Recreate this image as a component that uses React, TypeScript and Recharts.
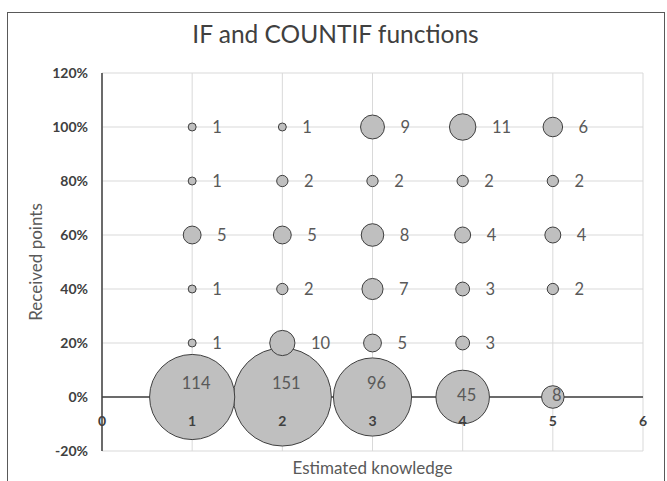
import React from "react";
import {
  ScatterChart,
  Scatter,
  XAxis,
  YAxis,
  ZAxis,
  CartesianGrid,
  ReferenceLine,
} from "recharts";

// estimated knowledge levels (x) and received points levels (y)
const knowledge = [1, 2, 3, 4, 5];
const pointLevels = [0, 0.2, 0.4, 0.6, 0.8, 1.0];

// number of students per knowledge level, in pointLevels order (0 = no bubble)
const counts1 = [114, 1, 1, 5, 1, 1];
const counts2 = [151, 10, 2, 5, 2, 1];
const counts3 = [96, 5, 7, 8, 2, 9];
const counts4 = [45, 3, 3, 4, 2, 11];
const counts5 = [8, 0, 2, 4, 2, 6];

const xTicks = [0, 1, 2, 3, 4, 5, 6];
const yTicks = [-0.2, 0, 0.2, 0.4, 0.6, 0.8, 1.0, 1.2];

const allCounts = [counts1, counts2, counts3, counts4, counts5];

// build bubble rows, biggest first so the small ones sit on top
const bubbles = knowledge
  .flatMap((k, i) =>
    pointLevels.map((p, j) => ({ x: k, y: p, z: allCounts[i][j] }))
  )
  .filter((d) => d.z > 0)
  .sort((a, b) => b.z - a.z);

const FONT = "Lato, 'Open Sans', sans-serif";
const maxR = 49;

const Bubble = (props: any) => {
  const { cx, cy, width } = props;
  return (
    <circle
      cx={cx}
      cy={cy}
      r={width / 2}
      fill="#bfbfbf"
      stroke="#3f3f3f"
      strokeWidth={1}
    />
  );
};

const BubbleLabel = (props: any) => {
  const { cx, cy, width, payload } = props;
  const r = width / 2;
  const style = { fontFamily: FONT, fontSize: 16.5, fill: "#595959" };
  if (payload.y === 0) {
    return (
      <text
        x={cx + 4}
        y={cy + (r > 35 ? -14 : -2)}
        textAnchor="middle"
        dominantBaseline="central"
        style={style}
      >
        {payload.z}
      </text>
    );
  }
  return (
    <text
      x={cx + r + 16}
      y={cy}
      textAnchor="start"
      dominantBaseline="central"
      style={style}
    >
      {payload.z}
    </text>
  );
};

const XTick = (props: any) => {
  const { x, y, payload } = props;
  return (
    <text
      x={x}
      y={y - 31}
      textAnchor="middle"
      dominantBaseline="central"
      style={{ fontFamily: FONT, fontSize: 14, fontWeight: 700, fill: "#404040" }}
    >
      {payload.value}
    </text>
  );
};

const XTitle = (props: any) => {
  const { viewBox } = props;
  return (
    <text
      x={viewBox.x + viewBox.width / 2}
      y={viewBox.y + 16}
      textAnchor="middle"
      dominantBaseline="central"
      style={{ fontFamily: FONT, fontSize: 17, fill: "#595959" }}
    >
      Estimated knowledge
    </text>
  );
};

const YTitle = (props: any) => {
  const { viewBox } = props;
  const x = viewBox.x + 35;
  const y = viewBox.y + viewBox.height / 2;
  return (
    <text
      x={x}
      y={y}
      transform={`rotate(-90 ${x} ${y})`}
      textAnchor="middle"
      dominantBaseline="central"
      style={{ fontFamily: FONT, fontSize: 17, fill: "#595959" }}
    >
      Received points
    </text>
  );
};

export default function App() {
  return (
    <div
      style={{
        position: "absolute",
        left: 0,
        top: 0,
        width: 667,
        height: 481,
        overflow: "hidden",
        background: "#fff",
      }}
    >
      <div
        style={{
          position: "absolute",
          left: 7,
          top: 12,
          width: 656,
          height: 520,
          border: "1.5px solid #595959",
        }}
      />
      <div
        style={{
          position: "absolute",
          left: 7,
          width: 657,
          top: 19,
          textAlign: "center",
          fontFamily: FONT,
          fontSize: 24.5,
          color: "#404040",
        }}
      >
        IF and COUNTIF functions
      </div>
      <div style={{ position: "absolute", left: 0, top: 0 }}>
        <ScatterChart
          width={667}
          height={481}
          margin={{ top: 73, right: 24, bottom: 0, left: 0 }}
        >
          <CartesianGrid stroke="#d9d9d9" strokeWidth={1} />
          <YAxis
            type="number"
            dataKey="y"
            domain={[-0.2, 1.2]}
            ticks={yTicks}
            width={102}
            tickSize={0}
            tickMargin={14}
            axisLine={{ stroke: "#404040", strokeWidth: 1.5 }}
            tickFormatter={(v: number) => `${Math.round(v * 100)}%`}
            tick={{ fontFamily: FONT, fontSize: 14, fontWeight: 700, fill: "#404040" }}
            label={{ content: YTitle }}
          />
          <ZAxis
            type="number"
            dataKey="z"
            domain={[0, 151]}
            range={[0, Math.PI * maxR * maxR]}
          />
          <ReferenceLine y={0} stroke="#404040" strokeWidth={1.5} />
          <Scatter data={bubbles} shape={Bubble} isAnimationActive={false} />
          <Scatter data={bubbles} shape={BubbleLabel} isAnimationActive={false} />
          <XAxis
            type="number"
            dataKey="x"
            domain={[0, 6]}
            ticks={xTicks}
            height={30}
            tickSize={0}
            tickMargin={0}
            axisLine={false}
            tick={<XTick />}
            label={{ content: XTitle }}
          />
        </ScatterChart>
      </div>
    </div>
  );
}
